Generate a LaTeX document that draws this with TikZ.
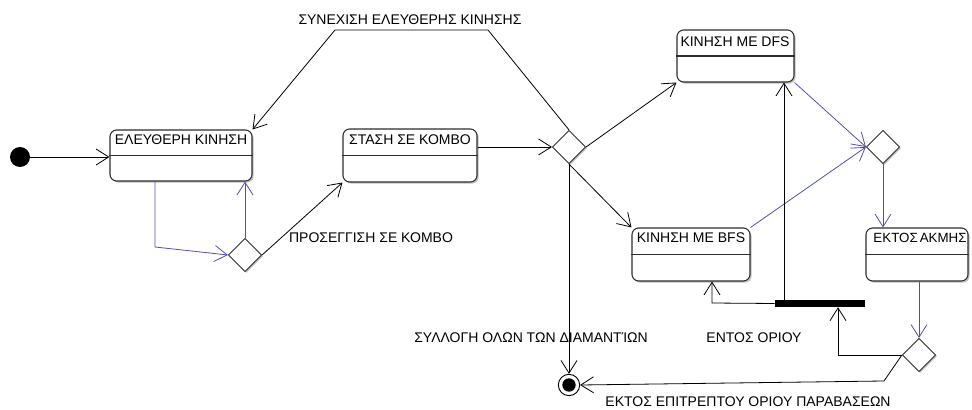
\documentclass[tikz,border=0pt]{standalone}
\usepackage{fontspec}
\setmainfont{Liberation Sans}
\usetikzlibrary{arrows.meta,shapes.geometric,fit,shadows}
\definecolor{flowblue}{RGB}{80,80,180}
\definecolor{edgegray}{RGB}{45,45,45}

\begin{document}
\begin{tikzpicture}[x=0.75pt,y=-0.75pt,
  >={Straight Barb[length=9.5pt,width=12pt]},
  tr/.style={->,line width=0.6pt,black},
  btr/.style={->,line width=0.6pt,flowblue},
  statebox/.style={draw=edgegray,line width=0.8pt,rounded corners=5pt,fill=white,inner sep=0pt,
     drop shadow={shadow xshift=1.2pt,shadow yshift=-1.2pt,opacity=0.25,fill=black}},
  divider/.style={draw=edgegray,line width=0.8pt},
  choice/.style={diamond,draw=edgegray,line width=0.6pt,fill=white,inner sep=0pt,
     minimum width=25pt,minimum height=25pt,
     drop shadow={shadow xshift=1pt,shadow yshift=-1pt,opacity=0.25,fill=black}},
  lbl/.style={font=\fontsize{10.5}{12}\selectfont,inner sep=0pt},
]
\useasboundingbox (0,0) rectangle (972,410);

% start and end states
\node[circle,fill=black,inner sep=0pt,minimum size=15pt] (init) at (20,157) {};
\node[circle,draw=black,line width=0.7pt,fill=white,inner sep=0pt,minimum size=16pt] (final) at (569,385) {};
\fill[black] (final.center) circle (5pt);

% states
\node[statebox,fit={(110,130) (252,181)}] (free) {};
\draw[divider] (free.west) -- (free.east);
\node[lbl] (freeL) at (181,140) {ΕΛΕΥΘΕΡΗ ΚΙΝΗΣΗ};

\node[statebox,fit={(343,129) (477,182)}] (stop) {};
\draw[divider] (stop.west) -- (stop.east);
\node[lbl] (stopL) at (410,140) {ΣΤΑΣΗ ΣΕ ΚΟΜΒΟ};

\node[statebox,fit={(677,30) (794,82)}] (dfs) {};
\draw[divider] (dfs.west) -- (dfs.east);
\node[lbl] (dfsL) at (735,42) {ΚΙΝΗΣΗ ΜΕ DFS};

\node[statebox,fit={(632,228) (750,281)}] (bfs) {};
\draw[divider] (bfs.west) -- (bfs.east);
\node[lbl] (bfsL) at (691,238) {ΚΙΝΗΣΗ ΜΕ BFS};

\node[statebox,fit={(866,228) (968,281)}] (edge) {};
\draw[divider] (edge.west) -- (edge.east);
\node[lbl,font=\fontsize{10}{12}\selectfont] (edgeL) at (920,238) {ΕΚΤΟΣ\hspace{1.5pt}ΑΚΜΗΣ};

% decision points and fork bar
\node[choice] (d1) at (245,255) {};
\node[choice] (d2) at (569,147) {};
\node[choice] (d3) at (883,147) {};
\node[choice] (d4) at (919,355) {};
\node[fill=black,inner sep=0pt,fit={(775,300) (865,307)}] (bar) {};

% bend points
\coordinate (b1) at (155,247);
\coordinate (loopR) at (488,30);
\coordinate (loopL) at (335,30);
\coordinate (barUp) at (784,300);
\coordinate (barLeft) at (712,303);
\coordinate (j1) at (838,355);
\coordinate (j3) at (884,381);

% transitions
\draw[tr] (init) -- (init -| free.west);
\draw[btr] (b1 |- free.south) -- (b1) -- (d1.west);
\draw[btr] (d1.north) -- (d1.north |- free.south);
\draw[tr] (d1.east) -- (stop.south west);
\draw[tr] (d2.west -| stop.east) -- (d2.west);
\draw[tr] (d2.north) -- (loopR) -- (loopL) -- (free.north east);
\draw[tr] (d2.east) -- (dfs.south west);
\draw[tr] (d2.south) -- (bfs.north west);
\draw[tr] (d2.south) -- (final.north);
\draw[btr] (dfs.south east) -- (d3.west);
\draw[btr] (bfs.north east) -- (d3.west);
\draw[btr] (d3.south) -- (d3.south |- edge.north);
\draw[btr] (d4.north |- edge.south) -- (d4.north);
\draw[tr] (d4.west) -- (j1) -- (j1 |- bar.south);
\draw[tr] (barUp) -- (barUp |- dfs.south);
\draw[tr] (bar.west) -- (barLeft) -- (barLeft |- bfs.south);
\draw[tr] (d4.west) -- (j3) -- (final.east);

% guard labels
\node[lbl] (gCont) at (410,20) {ΣΥΝΕΧΙΣΗ ΕΛΕΥΘΕΡΗΣ ΚΙΝΗΣΗΣ};
\node[lbl] (gNear) at (371,238) {ΠΡΟΣΕΓΓΙΣΗ ΣΕ ΚΟΜΒΟ};
\node[lbl] (gAll) at (531,338) {ΣΥΛΛΟΓΗ ΟΛΩΝ ΤΩΝ ΔΙΑΜΑΝΤΊΩΝ};
\node[lbl] (gIn) at (754,338) {ΕΝΤΟΣ ΟΡΙΟΥ};
\node[lbl] (gOut) at (748,402) {ΕΚΤΟΣ ΕΠΙΤΡΕΠΤΟΥ ΟΡΙΟΥ ΠΑΡΑΒΑΣΕΩΝ};
\end{tikzpicture}
\end{document}
